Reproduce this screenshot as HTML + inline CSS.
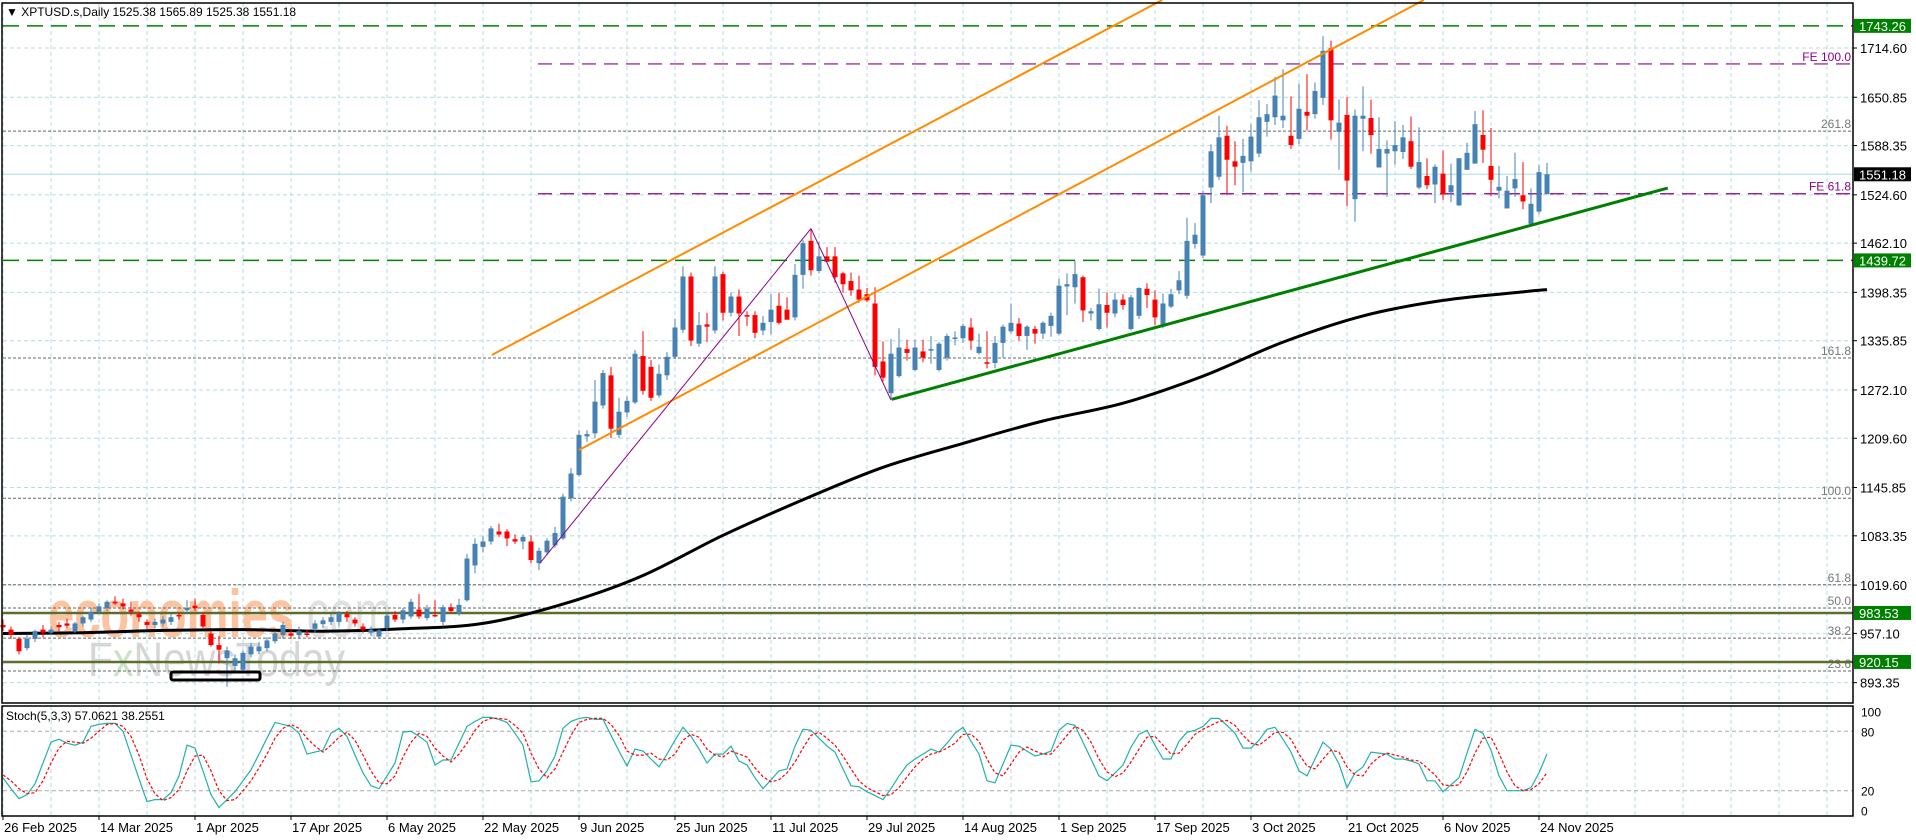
<!DOCTYPE html>
<html><head><meta charset="utf-8"><title>XPTUSD.s Daily</title>
<style>
html,body{margin:0;padding:0;background:#fff;}
body{width:1916px;height:840px;overflow:hidden;font-family:"Liberation Sans",sans-serif;}
svg{display:block;}
</style></head>
<body>
<svg id="chart" width="1916" height="840" xmlns="http://www.w3.org/2000/svg" font-family="Liberation Sans, sans-serif">
<rect x="0" y="0" width="1916" height="840" fill="#fff"/>
<g id="grid"></g>
<g id="watermark">
<text x="48" y="637" font-size="68" font-weight="bold" fill="#fcc3a0" textLength="246" lengthAdjust="spacingAndGlyphs">economies</text>
<text x="294" y="637" font-size="68" fill="#e0e0e0" textLength="98" lengthAdjust="spacingAndGlyphs">.com</text>
<text x="88" y="676" font-size="48" fill="#d6d6d6" textLength="257" lengthAdjust="spacingAndGlyphs">F<tspan fill="#c8e2c8">x</tspan>NewsToday</text>
</g>
<g id="levels"></g>
<g id="ma"></g>
<g id="candles"></g>
<g id="draw"></g>
<g id="stoch"></g>
<g id="axes"></g>
<text x="6" y="16" font-size="12" fill="#000">▼ XPTUSD.s,Daily  1525.38 1565.89 1525.38 1551.18</text>
</svg>
<script>
const opens=[968,962,950,938,950,962,958,968,970,960,970,975,985,990,998,996,988,982,972,968,970,972,981,987,993,981,957,942,925,915,910,930,934,938,947,955,957,955,957,963,969,972,972,982,975,966,958,953,964,981,975,979,988,977,981,972,991,983,1000,1045,1069,1076,1089,1089,1079,1076,1076,1048,1062,1071,1080,1132,1162,1212,1216,1252,1291,1214,1243,1256,1316,1302,1265,1291,1315,1350,1419,1332,1357,1349,1422,1372,1393,1369,1369,1349,1360,1381,1376,1366,1421,1465,1426,1445,1445,1423,1413,1402,1396,1384,1309,1268,1290,1325,1298,1322,1323,1298,1314,1339,1339,1353,1320,1308,1307,1333,1348,1358,1342,1351,1345,1355,1345,1406,1405,1418,1371,1351,1382,1371,1389,1351,1368,1403,1389,1354,1380,1401,1394,1461,1446,1534,1548,1601,1568,1566,1568,1578,1619,1625,1621,1601,1597,1632,1629,1650,1714,1606,1628,1519,1623,1624,1560,1578,1581,1580,1594,1534,1549,1538,1552,1528,1511,1557,1565,1602,1562,1530,1507,1533,1524,1487,1503,1525.38];
const highs=[975,966,952,955,962,968,966,972,976,972,980,990,996,1000,1005,1002,998,985,975,976,980,982,984,1000,1002,985,960,954,940,930,935,945,946,952,960,972,962,966,962,974,978,982,986,986,978,970,966,964,984,986,990,1002,1008,994,1000,994,996,1002,1060,1080,1083,1096,1099,1092,1085,1085,1084,1068,1080,1095,1138,1171,1220,1220,1285,1298,1302,1262,1264,1324,1348,1311,1305,1321,1364,1432,1424,1373,1372,1432,1425,1398,1402,1374,1374,1368,1396,1398,1392,1435,1466,1481,1464,1457,1457,1425,1424,1420,1404,1405,1335,1338,1352,1337,1337,1337,1342,1334,1345,1348,1358,1365,1345,1348,1342,1357,1384,1365,1356,1355,1361,1372,1416,1423,1439,1420,1378,1403,1398,1398,1396,1395,1405,1410,1401,1397,1403,1426,1495,1488,1530,1590,1627,1614,1594,1597,1616,1647,1642,1677,1687,1652,1668,1681,1670,1730,1724,1648,1651,1635,1665,1648,1625,1595,1620,1615,1626,1612,1572,1564,1582,1565,1572,1592,1633,1634,1611,1562,1549,1579,1567,1533,1563,1565.89];
const lows=[960,950,930,935,946,952,955,960,964,958,966,972,982,986,994,988,980,972,962,964,966,968,975,984,986,964,940,918,888,908,905,926,930,934,944,950,950,950,952,958,964,968,966,972,966,958,954,950,960,972,970,976,976,974,978,966,984,980,998,1035,1062,1072,1082,1070,1073,1066,1048,1039,1058,1068,1078,1128,1160,1205,1210,1248,1210,1210,1237,1254,1266,1258,1262,1285,1312,1346,1329,1328,1334,1345,1362,1367,1342,1355,1339,1343,1344,1357,1363,1362,1403,1420,1423,1438,1411,1398,1394,1385,1386,1291,1283,1259,1288,1310,1296,1308,1306,1296,1310,1330,1333,1324,1318,1300,1300,1314,1345,1336,1324,1332,1338,1341,1343,1369,1384,1360,1362,1349,1353,1366,1376,1349,1364,1378,1356,1352,1378,1396,1390,1455,1443,1514,1544,1524,1537,1528,1555,1573,1600,1615,1611,1584,1590,1608,1623,1641,1596,1557,1510,1490,1581,1578,1560,1522,1564,1571,1558,1532,1532,1514,1518,1515,1510,1557,1565,1566,1523,1520,1507,1522,1506,1487,1500,1525.38];
const closes=[965,955,934,950,960,958,962,965,967,970,978,985,992,998,996,992,985,978,968,972,975,978,979,990,990,966,942,936,935,925,932,940,940,948,957,968,954,960,955,970,974,978,983,978,970,962,962,961,980,975,987,998,979,989,980,991,986,994,1054,1073,1076,1093,1085,1080,1076,1082,1052,1064,1077,1087,1134,1164,1214,1215,1257,1294,1222,1244,1258,1319,1271,1262,1293,1315,1353,1419,1336,1356,1354,1419,1372,1393,1371,1367,1346,1359,1376,1359,1363,1421,1462,1427,1445,1438,1418,1409,1401,1389,1388,1302,1288,1319,1327,1320,1327,1314,1325,1332,1342,1340,1355,1336,1328,1306,1333,1354,1359,1342,1354,1345,1359,1368,1407,1409,1422,1375,1374,1383,1372,1389,1382,1392,1404,1395,1366,1384,1396,1414,1465,1473,1524,1581,1599,1570,1561,1575,1600,1625,1629,1653,1627,1589,1636,1627,1659,1711,1621,1618,1543,1627,1627,1602,1584,1584,1589,1599,1561,1567,1537,1561,1525,1537,1572,1579,1616,1583,1544,1535,1530,1545,1516,1513,1554,1551.18];
const maBars=[0,10,20,30,40,50,60,70,80,90,100,110,120,130,140,150,160,170,180,190,193];
const maValues=[957,958,961,962,960,963,970,995,1032,1084,1130,1172,1203,1232,1255,1290,1334,1368,1388,1399,1402];
const stochK=[33,22,12,16,27,48,69,72,68,66,69,85,87,88,88,80,56,32,9,11,11,18,35,66,63,40,16,3,11,19,30,41,57,73,89,87,85,78,57,59,61,78,83,75,56,38,25,22,35,48,79,80,75,69,46,51,51,68,85,90,94,94,92,89,78,66,29,30,40,55,83,90,93,94,92,92,76,60,45,62,60,52,44,57,71,84,75,62,48,57,57,65,50,46,33,22,31,40,42,65,82,81,73,65,59,42,25,24,19,15,11,22,35,46,52,57,62,59,68,78,84,70,57,30,28,47,66,65,60,55,57,60,81,88,86,69,52,35,30,38,46,64,77,81,66,52,52,70,79,81,85,93,93,86,78,63,63,71,82,84,72,59,40,35,52,69,62,47,23,38,44,59,58,57,52,52,50,47,30,30,19,26,33,58,82,78,61,35,20,20,20,23,38,57.06];
const stochD=[36,30,22,17,18,30,48,63,70,69,68,73,80,87,88,85,75,56,32,17,10,13,21,40,55,56,40,20,10,11,20,30,43,57,73,83,87,83,73,65,59,66,74,79,71,56,40,28,27,35,54,69,78,75,63,55,49,57,68,81,90,93,93,92,86,78,58,42,33,42,59,76,89,92,93,93,87,76,60,56,56,58,52,51,57,71,77,74,62,56,54,60,57,54,43,34,29,31,38,49,63,76,79,73,66,55,42,30,23,19,15,16,23,34,44,52,57,59,63,68,77,77,70,52,38,35,47,59,64,60,57,57,66,76,85,81,69,52,39,34,38,49,62,74,75,66,57,58,67,77,82,86,90,91,86,76,68,66,72,79,79,72,57,45,42,52,61,59,44,36,35,47,54,58,56,54,51,50,43,36,26,25,26,39,58,73,74,58,39,25,20,21,27,38.26];
const priceTicks=[1714.60,1650.85,1588.35,1524.60,1462.10,1398.35,1335.85,1272.10,1209.60,1145.85,1083.35,1019.60,957.10,893.35];
const dateLabels=["26 Feb 2025","14 Mar 2025","1 Apr 2025","17 Apr 2025","6 May 2025","22 May 2025","9 Jun 2025","25 Jun 2025","11 Jul 2025","29 Jul 2025","14 Aug 2025","1 Sep 2025","17 Sep 2025","3 Oct 2025","21 Oct 2025","6 Nov 2025","24 Nov 2025"];
const stochTicks=[100,80,20,0];
const fibLevels=[1607,1313.5,1132,1020,990,951,908.5];
const fibLabels=["261.8","161.8","100.0","61.8","50.0","38.2","23.6"];

const NS="http://www.w3.org/2000/svg";
const RIGHT=1853, TOP=3, BOTTOM=703, ST_TOP=706, ST_BOT=816;
function xOf(i){return 3+8*i;}
function yOf(p){return 48+(1714.6-p)/1.294;}
function ySt(v){return 810.5-v*0.99;}
function mk(tag,attrs,parent){const e=document.createElementNS(NS,tag);for(const k in attrs)e.setAttribute(k,attrs[k]);parent.appendChild(e);return e;}
const grid=document.getElementById('grid'),levels=document.getElementById('levels'),maG=document.getElementById('ma'),cg=document.getElementById('candles'),dg=document.getElementById('draw'),sg=document.getElementById('stoch'),ag=document.getElementById('axes');

for(let x=3;x<RIGHT;x+=48){
  let l=mk('line',{x1:x,y1:TOP,x2:x,y2:BOTTOM,stroke:'#b5dde2','stroke-dasharray':'4,3'},grid);
  
  
  let l2=mk('line',{x1:x,y1:ST_TOP,x2:x,y2:ST_BOT,stroke:'#b5dde2','stroke-dasharray':'4,3'},grid);
  
  
}
priceTicks.forEach(p=>{
  let l=mk('line',{x1:3,y1:yOf(p),x2:RIGHT,y2:yOf(p),stroke:'#b5dde2','stroke-dasharray':'4,3'},grid);
  
  
  let t=mk('line',{x1:RIGHT,y1:yOf(p),x2:RIGHT+4,y2:yOf(p),stroke:'#000'},ag);
  
  
  let tx=mk('text',{x:RIGHT+7,y:yOf(p)+5,'font-size':13,fill:'#000'},ag);
  tx.textContent=p.toFixed(2);
  
  
});

fibLevels.forEach((p,k)=>{
  let l=mk('line',{x1:3,y1:yOf(p),x2:RIGHT,y2:yOf(p),stroke:'#666','stroke-dasharray':'3,2'},levels);
  
  
  let t=mk('text',{x:RIGHT-2,y:yOf(p)-3,'font-size':12,fill:'#777','text-anchor':'end'},levels);
  t.textContent=fibLabels[k];
  
  
});
[983.53,920.15].forEach(p=>{
  let l=mk('line',{x1:3,y1:yOf(p),x2:RIGHT,y2:yOf(p),stroke:'#5b6e2e','stroke-width':2.5},levels);
  
  
});
[1743.26,1439.72].forEach(p=>{
  let l=mk('line',{x1:3,y1:yOf(p),x2:RIGHT,y2:yOf(p),stroke:'#008000','stroke-width':1.5,'stroke-dasharray':'16,8'},levels);
  
  
});
[[1694,'FE 100.0'],[1526,'FE 61.8']].forEach(([p,lab])=>{
  let l=mk('line',{x1:538,y1:yOf(p),x2:RIGHT,y2:yOf(p),stroke:'#8b008b','stroke-width':1.2,'stroke-dasharray':'14,8'},levels);
  
  
  let t=mk('text',{x:RIGHT-2,y:yOf(p)-3,'font-size':12,fill:'#8b008b','text-anchor':'end'},levels);
  t.textContent=lab;
  
  
});
let cpl=mk('line',{x1:3,y1:yOf(closes[closes.length-1]),x2:RIGHT,y2:yOf(closes[closes.length-1]),stroke:'#a6dde3'},levels);



const mp=maBars.map((b,k)=>[xOf(b),yOf(maValues[k])]);
let dpath='M'+mp[0][0]+','+mp[0][1].toFixed(1);
for(let k=0;k<mp.length-1;k++){
  const p0=mp[Math.max(0,k-1)],p1=mp[k],p2=mp[k+1],p3=mp[Math.min(mp.length-1,k+2)];
  const c1=[p1[0]+(p2[0]-p0[0])/6,p1[1]+(p2[1]-p0[1])/6],c2=[p2[0]-(p3[0]-p1[0])/6,p2[1]-(p3[1]-p1[1])/6];
  dpath+=' C'+c1[0].toFixed(1)+','+c1[1].toFixed(1)+' '+c2[0].toFixed(1)+','+c2[1].toFixed(1)+' '+p2[0]+','+p2[1].toFixed(1);
}
let mal=mk('path',{d:dpath,fill:'none',stroke:'#000','stroke-width':3,'stroke-linejoin':'round'},maG);



for(let i=0;i<closes.length;i++){
  const up=closes[i]>=opens[i];const col=up?'#4682b4':'#ff0000';const x=xOf(i);
  let w=mk('line',{x1:x,y1:yOf(highs[i]),x2:x,y2:yOf(lows[i]),stroke:col,'stroke-width':1},cg);
  
  
  const yt=yOf(Math.max(opens[i],closes[i])),yb=yOf(Math.min(opens[i],closes[i]));
  let b=mk('rect',{x:x-2.5,y:yt,width:5,height:Math.max(1.5,yb-yt),fill:col},cg);
  
  
}

function seg(b1,p1,b2,p2,attrs,name){
  let l=mk('line',Object.assign({x1:xOf(b1),y1:yOf(p1),x2:xOf(b2),y2:yOf(p2)},attrs),dg);
  
  
}
seg(61.1,1317.3,144.9,1776.7,{stroke:'#ff8c00','stroke-width':2},'channel-upper-line');
seg(72.0,1194.4,177.6,1776.7,{stroke:'#ff8c00','stroke-width':2},'channel-lower-line');
seg(111.1,1260,208.1,1533.4,{stroke:'#008000','stroke-width':3},'rising-trendline');
seg(67.1,1047.8,101.0,1481,{stroke:'#8b008b','stroke-width':1},'zigzag-leg-up');
seg(101.0,1481,111.0,1259,{stroke:'#8b008b','stroke-width':1},'zigzag-leg-down');
let box=mk('rect',{x:171,y:672,width:89,height:8,rx:2,fill:'none',stroke:'#000','stroke-width':3},dg);



[[1743.26,'#008000','#fff'],[1551.18,'#000','#fff'],[1439.72,'#008000','#fff'],[983.53,'#008000','#fff'],[920.15,'#008000','#fff']].forEach(([p,bg,fg])=>{
  let r=mk('rect',{x:RIGHT+1,y:yOf(p)-7,width:57,height:14,fill:bg},ag);
  
  
  let t=mk('text',{x:RIGHT+6,y:yOf(p)+5,'font-size':13,fill:fg},ag);
  t.textContent=p.toFixed(2);
  
  
});

[80,20].forEach(v=>{
  let l=mk('line',{x1:3,y1:ySt(v),x2:RIGHT,y2:ySt(v),stroke:'#aaa','stroke-dasharray':'4,3'},sg);
  
  
});
let kp=mk('polyline',{points:stochK.map((v,i)=>xOf(i)+','+ySt(v).toFixed(1)).join(' '),fill:'none',stroke:'#20b2aa','stroke-width':1.2},sg);


let dp=mk('polyline',{points:stochD.map((v,i)=>xOf(i)+','+ySt(v).toFixed(1)).join(' '),fill:'none',stroke:'#ff0000','stroke-width':1.2,'stroke-dasharray':'3,2'},sg);


let stl=mk('text',{x:6,y:720,'font-size':12,fill:'#000'},sg);
stl.textContent='Stoch(5,3,3) 57.0621 38.2551';


stochTicks.forEach(v=>{
  let t=mk('text',{x:RIGHT+8,y:ySt(v)+5,'font-size':12,fill:'#000'},ag);
  t.textContent=String(v);
  
  
});

[[2,TOP,RIGHT,BOTTOM],[2,ST_TOP,RIGHT,ST_BOT]].forEach(([x1,y1,x2,y2])=>{
  let r=mk('rect',{x:x1,y:y1,width:x2-x1,height:y2-y1,fill:'none',stroke:'#000','stroke-width':1.5},ag);
  
  
});
dateLabels.forEach((d,k)=>{
  const x=xOf(k*12);
  let t=mk('line',{x1:x,y1:ST_BOT,x2:x,y2:ST_BOT+4,stroke:'#000'},ag);
  
  
  let tx=mk('text',{x:x+1,y:832,'font-size':13,fill:'#000'},ag);
  tx.textContent=d;
  
  
});
</script>
</body></html>
